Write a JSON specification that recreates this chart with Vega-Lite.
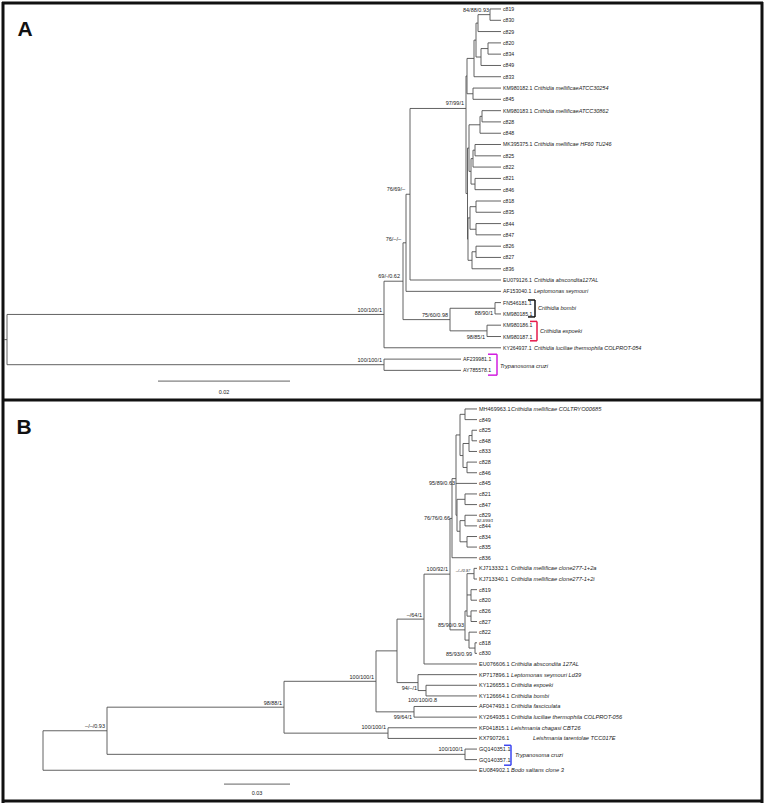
{
"$schema":"https://vega.github.io/schema/vega-lite/v6.json",
"width":765,"height":805,
"autosize":{"type":"fit","contains":"padding"},
"padding":0,
"background":"white",
"config":{"view":{"stroke":null}},
"datasets":{
"borders":[
{"x":2,"y":1,"x2":763,"y2":1},{"x":3,"y":0,"x2":3,"y2":805},{"x":762,"y":0,"x2":762,"y2":805},{"x":2,"y":803,"x2":763,"y2":803},{"x":2,"y":400,"x2":763,"y2":400}],
"branches":[
{"x":490,"y":7.0,"x2":501,"y2":7.0},{"x":490,"y":18.4,"x2":501,"y2":18.4},{"x":490,"y":7.0,"x2":490,"y2":18.4},
{"x":478,"y":12.7,"x2":490,"y2":12.7},{"x":478,"y":29.7,"x2":501,"y2":29.7},{"x":478,"y":12.7,"x2":478,"y2":29.7},
{"x":488,"y":41.1,"x2":501,"y2":41.1},{"x":488,"y":52.4,"x2":501,"y2":52.4},{"x":488,"y":41.1,"x2":488,"y2":52.4},
{"x":481,"y":46.8,"x2":488,"y2":46.8},{"x":481,"y":63.8,"x2":501,"y2":63.8},{"x":481,"y":46.8,"x2":481,"y2":63.8},
{"x":476,"y":21.2,"x2":478,"y2":21.2},{"x":476,"y":55.3,"x2":481,"y2":55.3},{"x":476,"y":21.2,"x2":476,"y2":55.3},
{"x":474,"y":38.3,"x2":476,"y2":38.3},{"x":474,"y":75.1,"x2":501,"y2":75.1},{"x":474,"y":38.3,"x2":474,"y2":75.1},
{"x":473,"y":86.5,"x2":501,"y2":86.5},{"x":473,"y":97.8,"x2":501,"y2":97.8},{"x":473,"y":86.5,"x2":473,"y2":97.8},
{"x":467,"y":56.7,"x2":474,"y2":56.7},{"x":467,"y":92.2,"x2":473,"y2":92.2},{"x":467,"y":56.7,"x2":467,"y2":92.2},
{"x":482,"y":109.2,"x2":501,"y2":109.2},{"x":482,"y":120.5,"x2":501,"y2":120.5},{"x":482,"y":109.2,"x2":482,"y2":120.5},
{"x":480,"y":114.9,"x2":482,"y2":114.9},{"x":480,"y":131.9,"x2":501,"y2":131.9},{"x":480,"y":114.9,"x2":480,"y2":131.9},
{"x":475,"y":143.2,"x2":501,"y2":143.2},{"x":475,"y":154.6,"x2":501,"y2":154.6},{"x":475,"y":143.2,"x2":475,"y2":154.6},
{"x":473,"y":148.9,"x2":475,"y2":148.9},{"x":473,"y":165.9,"x2":501,"y2":165.9},{"x":473,"y":148.9,"x2":473,"y2":165.9},
{"x":475,"y":177.3,"x2":501,"y2":177.3},{"x":475,"y":188.6,"x2":501,"y2":188.6},{"x":475,"y":177.3,"x2":475,"y2":188.6},
{"x":471,"y":157.4,"x2":473,"y2":157.4},{"x":471,"y":183.0,"x2":475,"y2":183.0},{"x":471,"y":157.4,"x2":471,"y2":183.0},
{"x":469,"y":123.4,"x2":480,"y2":123.4},{"x":469,"y":170.2,"x2":471,"y2":170.2},{"x":469,"y":123.4,"x2":469,"y2":170.2},
{"x":476,"y":200.0,"x2":501,"y2":200.0},{"x":476,"y":211.3,"x2":501,"y2":211.3},{"x":476,"y":200.0,"x2":476,"y2":211.3},
{"x":476,"y":222.7,"x2":501,"y2":222.7},{"x":476,"y":234.0,"x2":501,"y2":234.0},{"x":476,"y":222.7,"x2":476,"y2":234.0},
{"x":470,"y":205.7,"x2":476,"y2":205.7},{"x":470,"y":228.4,"x2":476,"y2":228.4},{"x":470,"y":205.7,"x2":470,"y2":228.4},
{"x":476,"y":245.4,"x2":501,"y2":245.4},{"x":476,"y":256.7,"x2":501,"y2":256.7},{"x":476,"y":245.4,"x2":476,"y2":256.7},
{"x":472,"y":251.0,"x2":476,"y2":251.0},{"x":472,"y":268.1,"x2":501,"y2":268.1},{"x":472,"y":251.0,"x2":472,"y2":268.1},
{"x":468,"y":217.0,"x2":470,"y2":217.0},{"x":468,"y":259.6,"x2":472,"y2":259.6},{"x":468,"y":217.0,"x2":468,"y2":259.6},
{"x":467.5,"y":146.8,"x2":469,"y2":146.8},{"x":467.5,"y":238.3,"x2":468,"y2":238.3},{"x":467.5,"y":146.8,"x2":467.5,"y2":238.3},
{"x":466,"y":74.4,"x2":467,"y2":74.4},{"x":466,"y":192.5,"x2":467.5,"y2":192.5},{"x":466,"y":74.4,"x2":466,"y2":192.5},
{"x":410,"y":107,"x2":466,"y2":107},{"x":410,"y":279.4,"x2":501,"y2":279.4},{"x":410,"y":107,"x2":410,"y2":279.4},
{"x":406,"y":193.2,"x2":410,"y2":193.2},{"x":406,"y":290.8,"x2":501,"y2":290.8},{"x":406,"y":193.2,"x2":406,"y2":290.8},
{"x":495,"y":302.1,"x2":501,"y2":302.1},{"x":495,"y":313.5,"x2":501,"y2":313.5},{"x":495,"y":302.1,"x2":495,"y2":313.5},
{"x":487,"y":324.8,"x2":501,"y2":324.8},{"x":487,"y":336.2,"x2":501,"y2":336.2},{"x":487,"y":324.8,"x2":487,"y2":336.2},
{"x":450,"y":307.8,"x2":495,"y2":307.8},{"x":450,"y":330.5,"x2":487,"y2":330.5},{"x":450,"y":307.8,"x2":450,"y2":330.5},
{"x":403,"y":242.0,"x2":406,"y2":242.0},{"x":403,"y":319.2,"x2":450,"y2":319.2},{"x":403,"y":242.0,"x2":403,"y2":319.2},
{"x":384,"y":280.6,"x2":403,"y2":280.6},{"x":384,"y":347.5,"x2":501,"y2":347.5},{"x":384,"y":280.6,"x2":384,"y2":347.5},
{"x":384,"y":358.9,"x2":461,"y2":358.9},{"x":384,"y":370.2,"x2":461,"y2":370.2},{"x":384,"y":358.9,"x2":384,"y2":370.2},
{"x":7,"y":314.0,"x2":384,"y2":314.0},{"x":7,"y":364.5,"x2":384,"y2":364.5},{"x":7,"y":314.0,"x2":7,"y2":364.5},
{"x":4,"y":339.3,"x2":7,"y2":339.3},
{"x":465,"y":409.0,"x2":477,"y2":409.0},{"x":465,"y":419.7,"x2":477,"y2":419.7},{"x":465,"y":409.0,"x2":465,"y2":419.7},
{"x":472,"y":430.4,"x2":477,"y2":430.4},{"x":472,"y":441.0,"x2":477,"y2":441.0},{"x":472,"y":430.4,"x2":472,"y2":441.0},
{"x":469,"y":435.7,"x2":472,"y2":435.7},{"x":469,"y":451.7,"x2":477,"y2":451.7},{"x":469,"y":435.7,"x2":469,"y2":451.7},
{"x":467,"y":462.4,"x2":477,"y2":462.4},{"x":467,"y":473.1,"x2":477,"y2":473.1},{"x":467,"y":462.4,"x2":467,"y2":473.1},
{"x":463,"y":443.7,"x2":469,"y2":443.7},{"x":463,"y":467.8,"x2":467,"y2":467.8},{"x":463,"y":443.7,"x2":463,"y2":467.8},
{"x":460,"y":414.4,"x2":465,"y2":414.4},{"x":460,"y":455.8,"x2":463,"y2":455.8},{"x":460,"y":414.4,"x2":460,"y2":455.8},
{"x":465,"y":494.4,"x2":477,"y2":494.4},{"x":465,"y":505.1,"x2":477,"y2":505.1},{"x":465,"y":494.4,"x2":465,"y2":505.1},
{"x":465,"y":515.8,"x2":477,"y2":515.8},{"x":465,"y":526.5,"x2":477,"y2":526.5},{"x":465,"y":515.8,"x2":465,"y2":526.5},
{"x":467,"y":537.2,"x2":477,"y2":537.2},{"x":467,"y":547.8,"x2":477,"y2":547.8},{"x":467,"y":537.2,"x2":467,"y2":547.8},
{"x":460,"y":521.2,"x2":465,"y2":521.2},{"x":460,"y":542.5,"x2":467,"y2":542.5},{"x":460,"y":521.2,"x2":460,"y2":542.5},
{"x":457,"y":499.8,"x2":465,"y2":499.8},{"x":457,"y":531.9,"x2":460,"y2":531.9},{"x":457,"y":499.8,"x2":457,"y2":531.9},
{"x":456,"y":435.1,"x2":460,"y2":435.1},{"x":456,"y":483.8,"x2":477,"y2":483.8},{"x":456,"y":515.8,"x2":457,"y2":515.8},{"x":456,"y":435.1,"x2":456,"y2":515.8},
{"x":452,"y":479,"x2":456,"y2":479},{"x":452,"y":558.5,"x2":477,"y2":558.5},{"x":452,"y":479,"x2":452,"y2":558.5},
{"x":474,"y":569.2,"x2":477,"y2":569.2},{"x":474,"y":579.9,"x2":477,"y2":579.9},{"x":474,"y":569.2,"x2":474,"y2":579.9},
{"x":471,"y":590.6,"x2":477,"y2":590.6},{"x":471,"y":601.2,"x2":477,"y2":601.2},{"x":471,"y":590.6,"x2":471,"y2":601.2},
{"x":471,"y":611.9,"x2":477,"y2":611.9},{"x":471,"y":622.6,"x2":477,"y2":622.6},{"x":471,"y":611.9,"x2":471,"y2":622.6},
{"x":467,"y":574.5,"x2":474,"y2":574.5},{"x":467,"y":595.9,"x2":471,"y2":595.9},{"x":467,"y":617.2,"x2":471,"y2":617.2},{"x":467,"y":574.5,"x2":467,"y2":617.2},
{"x":475,"y":644.0,"x2":477,"y2":644.0},{"x":475,"y":654.6,"x2":477,"y2":654.6},{"x":475,"y":644.0,"x2":475,"y2":654.6},
{"x":469,"y":633.3,"x2":477,"y2":633.3},{"x":469,"y":649.3,"x2":475,"y2":649.3},{"x":469,"y":633.3,"x2":469,"y2":649.3},
{"x":465,"y":612,"x2":467,"y2":612},{"x":465,"y":641.3,"x2":469,"y2":641.3},{"x":465,"y":612,"x2":465,"y2":641.3},
{"x":450,"y":519,"x2":452,"y2":519},{"x":450,"y":631,"x2":465,"y2":631},{"x":450,"y":519,"x2":450,"y2":631},
{"x":424,"y":575,"x2":450,"y2":575},{"x":424,"y":665.3,"x2":477,"y2":665.3},{"x":424,"y":575,"x2":424,"y2":665.3},
{"x":426,"y":686.7,"x2":477,"y2":686.7},{"x":426,"y":697.4,"x2":477,"y2":697.4},{"x":426,"y":686.7,"x2":426,"y2":697.4},
{"x":418,"y":676.0,"x2":477,"y2":676.0},{"x":418,"y":692.0,"x2":426,"y2":692.0},{"x":418,"y":676.0,"x2":418,"y2":692.0},
{"x":397,"y":620.2,"x2":424,"y2":620.2},{"x":397,"y":684.0,"x2":418,"y2":684.0},{"x":397,"y":620.2,"x2":397,"y2":684.0},
{"x":414,"y":708.0,"x2":477,"y2":708.0},{"x":414,"y":718.7,"x2":477,"y2":718.7},{"x":414,"y":708.0,"x2":414,"y2":718.7},
{"x":376,"y":652.1,"x2":397,"y2":652.1},{"x":376,"y":713.4,"x2":414,"y2":713.4},{"x":376,"y":652.1,"x2":376,"y2":713.4},
{"x":388,"y":729.4,"x2":477,"y2":729.4},{"x":388,"y":740.1,"x2":477,"y2":740.1},{"x":388,"y":729.4,"x2":388,"y2":740.1},
{"x":284,"y":682.7,"x2":376,"y2":682.7},{"x":284,"y":734.8,"x2":388,"y2":734.8},{"x":284,"y":682.7,"x2":284,"y2":734.8},
{"x":465,"y":750.8,"x2":477,"y2":750.8},{"x":465,"y":761.4,"x2":477,"y2":761.4},{"x":465,"y":750.8,"x2":465,"y2":761.4},
{"x":107,"y":708.7,"x2":284,"y2":708.7},{"x":107,"y":756.1,"x2":465,"y2":756.1},{"x":107,"y":708.7,"x2":107,"y2":756.1},
{"x":43,"y":732.4,"x2":107,"y2":732.4},{"x":43,"y":772.1,"x2":477,"y2":772.1},{"x":43,"y":732.4,"x2":43,"y2":772.1},
{"x":158,"y":381,"x2":290,"y2":381},{"x":224,"y":786,"x2":290,"y2":786}],
"brackets":[
{"g":"bombi","x":528,"y":299.5,"x2":535,"y2":299.5},{"g":"bombi","x":535,"y":299.5,"x2":535,"y2":316.5},{"g":"bombi","x":528,"y":316.5,"x2":535,"y2":316.5},
{"g":"expoeki","x":530,"y":321,"x2":537,"y2":321},{"g":"expoeki","x":537,"y":321,"x2":537,"y2":340.5},{"g":"expoeki","x":530,"y":340.5,"x2":537,"y2":340.5},
{"g":"tcA","x":488,"y":354,"x2":497,"y2":354},{"g":"tcA","x":497,"y":354,"x2":497,"y2":375},{"g":"tcA","x":488,"y":375,"x2":497,"y2":375},
{"g":"tcB","x":504,"y":747,"x2":511,"y2":747},{"g":"tcB","x":511,"y":747,"x2":511,"y2":767},{"g":"tcB","x":504,"y":767,"x2":511,"y2":767}],
"leaves":[
{"p":"A","x":501,"y":7.0,"acc":"c819","sp":""},
{"p":"A","x":501,"y":18.4,"acc":"c830","sp":""},
{"p":"A","x":501,"y":29.7,"acc":"c829","sp":""},
{"p":"A","x":501,"y":41.1,"acc":"c820","sp":""},
{"p":"A","x":501,"y":52.4,"acc":"c834","sp":""},
{"p":"A","x":501,"y":63.8,"acc":"c849","sp":""},
{"p":"A","x":501,"y":75.1,"acc":"c833","sp":""},
{"p":"A","x":501,"y":86.5,"acc":"KM980182.1","sp":"Crithidia mellificaeATCC30254"},
{"p":"A","x":501,"y":97.8,"acc":"c845","sp":""},
{"p":"A","x":501,"y":109.2,"acc":"KM980183.1","sp":"Crithidia mellificaeATCC30862"},
{"p":"A","x":501,"y":120.5,"acc":"c828","sp":""},
{"p":"A","x":501,"y":131.9,"acc":"c848","sp":""},
{"p":"A","x":501,"y":143.2,"acc":"MK395375.1","sp":"Crithidia mellificae HF60 TU246"},
{"p":"A","x":501,"y":154.6,"acc":"c825","sp":""},
{"p":"A","x":501,"y":165.9,"acc":"c822","sp":""},
{"p":"A","x":501,"y":177.3,"acc":"c821","sp":""},
{"p":"A","x":501,"y":188.6,"acc":"c846","sp":""},
{"p":"A","x":501,"y":200.0,"acc":"c818","sp":""},
{"p":"A","x":501,"y":211.3,"acc":"c835","sp":""},
{"p":"A","x":501,"y":222.7,"acc":"c844","sp":""},
{"p":"A","x":501,"y":234.0,"acc":"c847","sp":""},
{"p":"A","x":501,"y":245.4,"acc":"c826","sp":""},
{"p":"A","x":501,"y":256.7,"acc":"c827","sp":""},
{"p":"A","x":501,"y":268.1,"acc":"c836","sp":""},
{"p":"A","x":501,"y":279.4,"acc":"EU079126.1","sp":"Crithidia abscondita127AL"},
{"p":"A","x":501,"y":290.8,"acc":"AF153040.1","sp":"Leptomonas seymouri"},
{"p":"A","x":501,"y":302.1,"acc":"FN546181.1","sp":""},
{"p":"A","x":501,"y":313.5,"acc":"KM980185.1","sp":""},
{"p":"A","x":501,"y":324.8,"acc":"KM980186.1","sp":""},
{"p":"A","x":501,"y":336.2,"acc":"KM980187.1","sp":""},
{"p":"A","x":501,"y":347.5,"acc":"KY264937.1","sp":"Crithidia luciliae thermophila COLPROT-054"},
{"p":"A","x":461,"y":358.9,"acc":"AF239981.1","sp":""},
{"p":"A","x":461,"y":370.2,"acc":"AY785578.1","sp":""},
{"p":"B","x":477,"y":409.0,"acc":"MH469963.1","sp":"Crithidia mellificae COLTRYO00685"},
{"p":"B","x":477,"y":419.7,"acc":"c849","sp":""},
{"p":"B","x":477,"y":430.4,"acc":"c825","sp":""},
{"p":"B","x":477,"y":441.0,"acc":"c848","sp":""},
{"p":"B","x":477,"y":451.7,"acc":"c833","sp":""},
{"p":"B","x":477,"y":462.4,"acc":"c828","sp":""},
{"p":"B","x":477,"y":473.1,"acc":"c846","sp":""},
{"p":"B","x":477,"y":483.8,"acc":"c845","sp":""},
{"p":"B","x":477,"y":494.4,"acc":"c821","sp":""},
{"p":"B","x":477,"y":505.1,"acc":"c847","sp":""},
{"p":"B","x":477,"y":515.8,"acc":"c829","sp":""},
{"p":"B","x":477,"y":526.5,"acc":"c844","sp":""},
{"p":"B","x":477,"y":537.2,"acc":"c834","sp":""},
{"p":"B","x":477,"y":547.8,"acc":"c835","sp":""},
{"p":"B","x":477,"y":558.5,"acc":"c836","sp":""},
{"p":"B","x":477,"y":569.2,"acc":"KJ713332.1","sp":"Crithidia mellificae clone277-1+2a"},
{"p":"B","x":477,"y":579.9,"acc":"KJ713340.1","sp":"Crithidia mellificae clone277-1+2i"},
{"p":"B","x":477,"y":590.6,"acc":"c819","sp":""},
{"p":"B","x":477,"y":601.2,"acc":"c820","sp":""},
{"p":"B","x":477,"y":611.9,"acc":"c826","sp":""},
{"p":"B","x":477,"y":622.6,"acc":"c827","sp":""},
{"p":"B","x":477,"y":633.3,"acc":"c822","sp":""},
{"p":"B","x":477,"y":644.0,"acc":"c818","sp":""},
{"p":"B","x":477,"y":654.6,"acc":"c830","sp":""},
{"p":"B","x":477,"y":665.3,"acc":"EU076606.1","sp":"Crithidia abscondita 127AL"},
{"p":"B","x":477,"y":676.0,"acc":"KP717896.1","sp":"Leptomonas seymouri Ld39"},
{"p":"B","x":477,"y":686.7,"acc":"KY126655.1","sp":"Crithidia expoeki"},
{"p":"B","x":477,"y":697.4,"acc":"KY126664.1","sp":"Crithidia bombi"},
{"p":"B","x":477,"y":708.0,"acc":"AF047493.1","sp":"Crithidia fasciculata"},
{"p":"B","x":477,"y":718.7,"acc":"KY264935.1","sp":"Crithidia luciliae thermophila COLPROT-056"},
{"p":"B","x":477,"y":729.4,"acc":"KF041815.1","sp":"Leishmania chagasi CBT26"},
{"p":"B","x":477,"y":740.1,"acc":"KX790726.1","sp":""},
{"p":"B","x":477,"y":750.8,"acc":"GQ140351.1","sp":""},
{"p":"B","x":477,"y":761.4,"acc":"GQ140357.1","sp":""},
{"p":"B","x":477,"y":772.1,"acc":"EU084902.1","sp":"Bodo saltans clone 3"}],
"supports":[
{"x":489,"y":8.5,"t":"84/88/0.93"},
{"x":464,"y":102,"t":"97/99/1"},
{"x":405,"y":188,"t":"76/69/–"},
{"x":401,"y":238,"t":"76/–/–"},
{"x":400,"y":275.5,"t":"69/-/0.62"},
{"x":382,"y":310,"t":"100/100/1"},
{"x":448,"y":315,"t":"75/60/0.98"},
{"x":493,"y":312.5,"t":"88/90/1"},
{"x":485,"y":337,"t":"98/85/1"},
{"x":382,"y":359.5,"t":"100/100/1"},
{"x":455,"y":483,"t":"95/89/0.63"},
{"x":450,"y":519,"t":"76/76/0.66"},
{"x":448,"y":570,"t":"100/92/1"},
{"x":464,"y":626,"t":"85/90/0.93"},
{"x":472,"y":655,"t":"85/93/0.99"},
{"x":422,"y":616,"t":"–/64/1"},
{"x":417,"y":689,"t":"94/–/1"},
{"x":437,"y":701,"t":"100/100/0.8"},
{"x":412,"y":719,"t":"99/64/1"},
{"x":374,"y":678,"t":"100/100/1"},
{"x":386,"y":729,"t":"100/100/1"},
{"x":282,"y":704,"t":"98/88/1"},
{"x":105,"y":728,"t":"–/–/0.93"},
{"x":463,"y":751,"t":"100/100/1"}],
"tiny":[
{"x":485,"y":521.5,"t":"92.3/99/1"},
{"x":463,"y":572,"t":"–/–/0.97"}],
"clades":[
{"x":538,"y":308,"t":"Crithidia bombi"},
{"x":540,"y":330.5,"t":"Crithidia expoeki"},
{"x":500,"y":366,"t":"Trypanosoma cruzi"},
{"x":533,"y":740.1,"t":"Leishmania tarentolae TCC017E"},
{"x":515,"y":757,"t":"Trypanosoma cruzi"}],
"scalelabels":[
{"x":224,"y":392,"t":"0.02"},
{"x":257,"y":795,"t":"0.03"}],
"letters":[
{"x":25,"y":28,"t":"A"},
{"x":24,"y":428,"t":"B"}]
},
"encoding":{
"x":{"field":"x","type":"quantitative","scale":{"domain":[0,765],"nice":false,"zero":false},"axis":null},
"y":{"field":"y","type":"quantitative","scale":{"domain":[0,805],"nice":false,"zero":false,"reverse":true},"axis":null}
},
"layer":[
{"data":{"name":"borders"},"mark":{"type":"rule","stroke":"#111111","strokeWidth":3},
 "encoding":{"x2":{"field":"x2"},"y2":{"field":"y2"}}},
{"data":{"name":"branches"},"mark":{"type":"rule","stroke":"#505050","strokeWidth":0.9},
 "encoding":{"x2":{"field":"x2"},"y2":{"field":"y2"}}},
{"data":{"name":"brackets"},"mark":{"type":"rule","strokeWidth":1.5},
 "encoding":{"x2":{"field":"x2"},"y2":{"field":"y2"},
  "color":{"field":"g","type":"nominal","legend":null,"scale":{"domain":["bombi","expoeki","tcA","tcB"],"range":["#111111","#e5194b","#d11fe0","#3d46f0"]}}}},
{"data":{"name":"leaves"},"transform":[{"filter":"datum.p=='A'"}],
 "mark":{"type":"text","align":"left","baseline":"middle","dx":2,"fontSize":5.2,"font":"Liberation Sans","color":"#222222"},
 "encoding":{"text":{"field":"acc"}}},
{"data":{"name":"leaves"},"transform":[{"filter":"datum.p=='B'"}],
 "mark":{"type":"text","align":"left","baseline":"middle","dx":2,"fontSize":5.5,"font":"Liberation Sans","color":"#222222"},
 "encoding":{"text":{"field":"acc"}}},
{"data":{"name":"leaves"},"transform":[{"filter":"datum.p=='A' && datum.sp!=''"}],
 "mark":{"type":"text","align":"left","baseline":"middle","dx":33,"fontSize":5.5,"fontStyle":"italic","font":"Liberation Sans","color":"#222222"},
 "encoding":{"text":{"field":"sp"}}},
{"data":{"name":"leaves"},"transform":[{"filter":"datum.p=='B' && datum.sp!=''"}],
 "mark":{"type":"text","align":"left","baseline":"middle","dx":34,"fontSize":5.7,"fontStyle":"italic","font":"Liberation Sans","color":"#222222"},
 "encoding":{"text":{"field":"sp"}}},
{"data":{"name":"supports"},
 "mark":{"type":"text","align":"right","baseline":"middle","fontSize":5.5,"font":"Liberation Sans","color":"#222222"},
 "encoding":{"text":{"field":"t"}}},
{"data":{"name":"tiny"},
 "mark":{"type":"text","align":"center","baseline":"middle","fontSize":4,"font":"Liberation Sans","fontStyle":"italic","color":"#222222"},
 "encoding":{"text":{"field":"t"}}},
{"data":{"name":"clades"},
 "mark":{"type":"text","align":"left","baseline":"middle","fontSize":5.7,"fontStyle":"italic","font":"Liberation Sans","color":"#222222"},
 "encoding":{"text":{"field":"t"}}},
{"data":{"name":"scalelabels"},
 "mark":{"type":"text","align":"center","baseline":"middle","fontSize":5.5,"font":"Liberation Sans","color":"#222222"},
 "encoding":{"text":{"field":"t"}}},
{"data":{"name":"letters"},
 "mark":{"type":"text","align":"center","baseline":"middle","fontSize":21,"fontWeight":"bold","font":"Liberation Sans","color":"#111111"},
 "encoding":{"text":{"field":"t"}}}
]
}
